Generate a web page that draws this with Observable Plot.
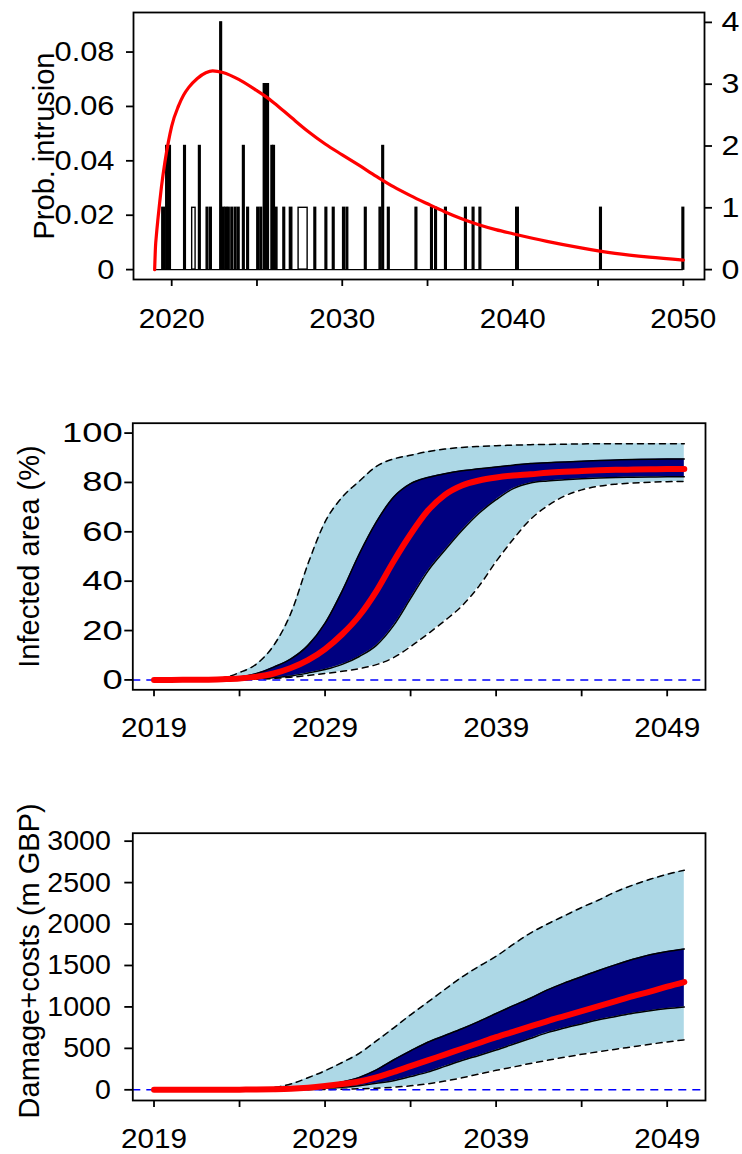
<!DOCTYPE html>
<html><head><meta charset="utf-8">
<script src="https://cdn.jsdelivr.net/npm/d3@7"></script>
<script src="https://cdn.jsdelivr.net/npm/@observablehq/plot@0.6"></script>
<style>
html,body{margin:0;padding:0;background:#fff;}
#chart svg{display:block;}
</style>
</head><body><div id="chart"></div>
<script>
// ---------- Panel 1: intrusion events (counts) and intrusion probability ----------
const binStart = [2019.45,2019.68,2019.85,2020.73,2021.2,2021.6,2022.05,2022.25,2022.85,2023.0,2023.15,2023.3,2023.5,2023.7,2023.88,2024.18,2024.43,2025.02,2025.2,2025.4,2025.5,2025.6,2025.85,2025.95,2026.1,2026.55,2026.93,2027.44,2028.37,2029.02,2029.45,2030.05,2030.25,2031.33,2032.19,2032.35,2032.68,2034.3,2035.21,2035.45,2036.03,2037.2,2037.65,2038.05,2040.2,2045.12,2049.95];
const binEnd   = [2019.6,2019.78,2019.95,2020.83,2021.4,2021.7,2022.15,2022.35,2022.95,2023.1,2023.25,2023.4,2023.6,2023.8,2023.98,2024.28,2024.53,2025.12,2025.3,2025.5,2025.6,2025.7,2025.95,2026.05,2026.2,2026.65,2027.07,2027.97,2028.47,2029.12,2029.55,2030.15,2030.35,2031.43,2032.29,2032.45,2032.78,2034.4,2035.31,2035.55,2036.13,2037.3,2037.75,2038.15,2040.35,2045.22,2050.05];
const binCount = [1,2,2,2,1,2,1,1,4,1,1,1,1,1,1,2,1,1,1,3,3,3,2,2,1,1,1,1,1,1,1,1,1,1,1,2,1,1,1,1,1,1,1,1,1,1,1];

const probYear = [2019.0,2019.05,2019.1,2019.2,2019.3,2019.4,2019.6,2019.8,2020.0,2020.4,2020.7,2021.0,2021.5,2022.0,2022.4,2023.0,2024.0,2025.0,2025.5,2026.0,2027.0,2028.0,2029.0,2030.0,2031.0,2032.0,2033.0,2034.0,2035.0,2036.0,2037.0,2038.0,2039.0,2040.0,2042.0,2044.0,2046.0,2048.0,2050.0];
const probValue = [0,0.0085,0.0125,0.019,0.025,0.0305,0.0395,0.0468,0.0528,0.0602,0.0642,0.0670,0.0703,0.0724,0.0731,0.0725,0.0697,0.0658,0.0637,0.0613,0.0560,0.0508,0.0462,0.0422,0.0383,0.0343,0.0305,0.0272,0.0242,0.0213,0.0187,0.0165,0.0147,0.0132,0.0104,0.0080,0.0060,0.0046,0.0035];

const probTicks = [0, 0.02, 0.04, 0.06, 0.08];
const countTicks = [0, 1, 2, 3, 4];
const topXTicks = [2020, 2025, 2030, 2035, 2040, 2045, 2050];
const topXLabels = [2020, 2030, 2040, 2050];

// ---------- Panels 2 & 3: simulated spread ----------
const years = [2019,2020,2021,2022,2023,2024,2025,2026,2027,2028,2029,2030,2031,2032,2033,2034,2035,2036,2037,2038,2039,2040,2041,2042,2043,2044,2045,2046,2047,2048,2049,2050];

const areaLo95 = [0,0,0,0,0.05,0.1,0.3,0.6,1.1,1.8,2.6,3.5,4.6,6.2,9,13.5,18.6,24,30,38,48,57,65,70.5,74.5,77,78.5,79.3,79.8,80.1,80.3,80.4];
const areaLo50 = [0,0,0,0.05,0.1,0.25,0.5,0.9,1.6,2.8,4.2,6.3,9.5,14,22,33,44,52.5,60.5,67.5,73,77.5,79.8,80.6,81.1,81.5,81.8,82,82.1,82.2,82.3,82.3];
const areaMed  = [0,0,0.05,0.1,0.3,0.6,1.3,2.6,4.8,8,12.5,18.5,26,36,48,59,68.5,75,78.8,80.8,82,82.8,83.3,83.9,84.3,84.6,84.9,85.1,85.2,85.3,85.4,85.4];
const areaHi50 = [0,0.05,0.1,0.3,0.6,1.2,2.6,5.2,8.5,14,23,36,51,64,74,79.5,82,83.5,84.7,85.5,86.3,87,87.7,88,88.3,88.6,88.9,89.1,89.3,89.4,89.5,89.5];
const areaHi95 = [0,0,0.1,0.3,0.8,3,6.5,14,27,47,64,74,80.5,86.5,89.5,91,92.5,93.5,94.2,94.6,94.9,95.1,95.3,95.4,95.5,95.6,95.7,95.7,95.7,95.7,95.7,95.7];

const costLo95 = [0,0,0,0,0,0,0,0.5,1,2,4,7,12,20,31,48,72,105,145,190,235,275,318,356,393,428,460,490,520,550,578,603];
const costLo50 = [0,0,0,0,0.5,1,2,3,5,10,18,30,50,78,110,160,213,283,354,415,480,550,620,690,745,795,845,885,925,955,980,1000];
const costMed  = [0,0,0,0.5,1,2,3,6,12,25,45,70,100,150,215,285,355,425,495,565,635,700,765,830,890,950,1010,1070,1130,1185,1245,1300];
const costHi50 = [0,0,0,0.5,1,2,4,8,16,30,55,95,150,240,360,470,574,655,736,825,920,1015,1105,1205,1290,1365,1440,1510,1575,1630,1670,1700];
const costHi95 = [0,0,0,1,3,8,15,28,70,145,230,330,440,590,745,905,1057,1210,1360,1490,1610,1755,1890,2000,2100,2200,2290,2390,2470,2540,2600,2650];

const bandXTicks = [2019, 2024, 2029, 2034, 2039, 2044, 2049];
const bandXLabels = [2019, 2029, 2039, 2049];
const areaTicks = [0, 20, 40, 60, 80, 100];
const costTicks = [0, 500, 1000, 1500, 2000, 2500, 3000];

// ---------- drawing ----------
const W = 742;
const FONT = "'Liberation Sans', Arial, Helvetica, sans-serif";
const TICKFS = 28, TITLEFS = 29;
const AXW = 1.8;
const chart = document.getElementById("chart");

// widen tick label glyphs horizontally around their text anchor (reference text is drawn wide)
function widen(svg, label, factors) {
  try {
    svg.querySelectorAll(`g[aria-label="${label}"]`).forEach((g, gi) => {
      const sx = factors[Math.min(gi, factors.length - 1)];
      if (sx === 1) return;
      g.querySelectorAll("text").forEach(t => {
        const b = t.getBBox();
        if (!b || !(b.width > 0)) return;
        const anchor = getComputedStyle(t).textAnchor || t.getAttribute("text-anchor") || "start";
        const px = anchor === "end" ? b.x + b.width : anchor === "middle" ? b.x + b.width / 2 : b.x;
        const tr = t.getAttribute("transform") || "";
        t.setAttribute("transform", `${tr} translate(${px},0) scale(${sx},1) translate(${-px},0)`.trim());
      });
    });
  } catch (e) { /* leave labels unchanged */ }
}

const bins = binStart.map((s, i) => ({x1: s, x2: binEnd[i], c: binCount[i]}));
const prob = probYear.map((y, i) => ({year: y, p: probValue[i]}));
const K = 44; // count units per unit of probability (secondary axis)

const p1 = Plot.plot({
  width: W, height: 400,
  marginLeft: 133, marginRight: 38, marginTop: 12, marginBottom: 121,
  x: {domain: [2017.76, 2051.24]},
  y: {domain: [-0.16, 4.16]},
  style: {fontFamily: FONT, fontSize: TICKFS + "px", color: "black", background: "white"},
  marks: [
    Plot.ruleY([0], {x1: 2019, x2: 2050, stroke: "black", strokeWidth: 1.4}),
    Plot.rect(bins, {x1: "x1", x2: "x2", y1: 0, y2: "c",
      fill: d => (d.x2 - d.x1) > 0.15 ? "none" : "black", stroke: "black", strokeWidth: 1.4}),
    Plot.line(prob, {x: "year", y: d => d.p * K, stroke: "#ff0000", strokeWidth: 3.2, curve: "monotone-x"}),
    Plot.frame({stroke: "black", strokeWidth: AXW}),
    Plot.axisX(topXTicks, {anchor: "bottom", tickSize: 7, tickPadding: 22, strokeWidth: AXW, fontSize: TICKFS,
      tickFormat: d => topXLabels.includes(d) ? String(d) : "", label: null}),
    Plot.axisY(probTicks.map(p => p * K), {anchor: "left", tickSize: 7, tickPadding: 12, strokeWidth: AXW, fontSize: TICKFS,
      tickFormat: d => { const p = Math.round(d / K * 100) / 100; return p === 0 ? "0" : p.toFixed(2); }, label: null}),
    Plot.axisY(countTicks, {anchor: "right", tickSize: 7, tickPadding: 10, strokeWidth: AXW, fontSize: TICKFS,
      tickFormat: d => String(d), label: null}),
    Plot.text(["Prob. intrusion"], {frameAnchor: "left", dx: -89, rotate: -90, fontSize: TITLEFS, fill: "black",
      textAnchor: "middle", lineAnchor: "middle"})
  ]
});
chart.appendChild(p1);
widen(p1, "y-axis tick label", [1.1, 1.15]);
widen(p1, "x-axis tick label", [1.06]);

function bandPanel(lo95, lo50, med, hi50, hi95, cfg) {
  const rows = years.map((y, i) => ({year: y, lo95: lo95[i], lo50: lo50[i], med: med[i], hi50: hi50[i], hi95: hi95[i]}));
  const C = "monotone-x";
  const svg = Plot.plot({
    width: W, height: cfg.height,
    marginLeft: 132.3, marginRight: 37, marginTop: cfg.marginTop, marginBottom: cfg.marginBottom,
    x: {domain: [2017.76, 2051.24]},
    y: {domain: cfg.yDomain},
    style: {fontFamily: FONT, fontSize: TICKFS + "px", color: "black", background: "white"},
    marks: [
      Plot.areaY(rows, {x: "year", y1: "lo95", y2: "hi95", fill: "#add8e6", curve: C}),
      Plot.areaY(rows, {x: "year", y1: "lo50", y2: "hi50", fill: "#000080", curve: C}),
      Plot.lineY(rows, {x: "year", y: "lo95", stroke: "black", strokeWidth: 1.5, strokeDasharray: "6,5", curve: C}),
      Plot.lineY(rows, {x: "year", y: "hi95", stroke: "black", strokeWidth: 1.5, strokeDasharray: "6,5", curve: C}),
      Plot.lineY(rows, {x: "year", y: "lo50", stroke: "black", strokeWidth: 1.5, curve: C}),
      Plot.lineY(rows, {x: "year", y: "hi50", stroke: "black", strokeWidth: 1.5, curve: C}),
      Plot.ruleY([0], {stroke: "#0000ff", strokeWidth: 1.5, strokeDasharray: "8,6"}),
      Plot.lineY(rows, {x: "year", y: "med", stroke: "#ff0000", strokeWidth: 6, strokeLinecap: "round", strokeLinejoin: "round", curve: C}),
      Plot.frame({stroke: "black", strokeWidth: AXW}),
      Plot.axisX(bandXTicks, {anchor: "bottom", tickSize: 7, tickPadding: cfg.xPad, strokeWidth: AXW, fontSize: TICKFS,
        tickFormat: d => bandXLabels.includes(d) ? String(d) : "", label: null}),
      Plot.axisY(cfg.yTicks, {anchor: "left", tickSize: 8, tickPadding: cfg.yPad, strokeWidth: AXW, fontSize: TICKFS,
        tickFormat: d => String(d), label: null}),
      Plot.text([cfg.title], {frameAnchor: "left", dx: cfg.titleDx, dy: cfg.titleDy, rotate: -90, fontSize: TITLEFS,
        fill: "black", textAnchor: "middle", lineAnchor: "middle"})
    ]
  });
  chart.appendChild(svg);
  widen(svg, "y-axis tick label", [cfg.yWiden]);
  widen(svg, "x-axis tick label", [1.06]);
  return svg;
}

bandPanel(areaLo95, areaLo50, areaMed, areaHi50, areaHi95, {
  height: 380, marginTop: 22.7, marginBottom: 90.7, yDomain: [-4, 104], yTicks: areaTicks,
  xPad: 20, yPad: 2, yWiden: 1.3, title: "Infected area (%)", titleDx: -103, titleDy: 0
});

bandPanel(costLo95, costLo50, costMed, costHi50, costHi95, {
  height: 374, marginTop: 52.7, marginBottom: 54, yDomain: [-129, 3096], yTicks: costTicks,
  xPad: 21, yPad: 14, yWiden: 1.02, title: "Damage+costs (m GBP)", titleDx: -103, titleDy: -6
});
</script>
</body></html>
